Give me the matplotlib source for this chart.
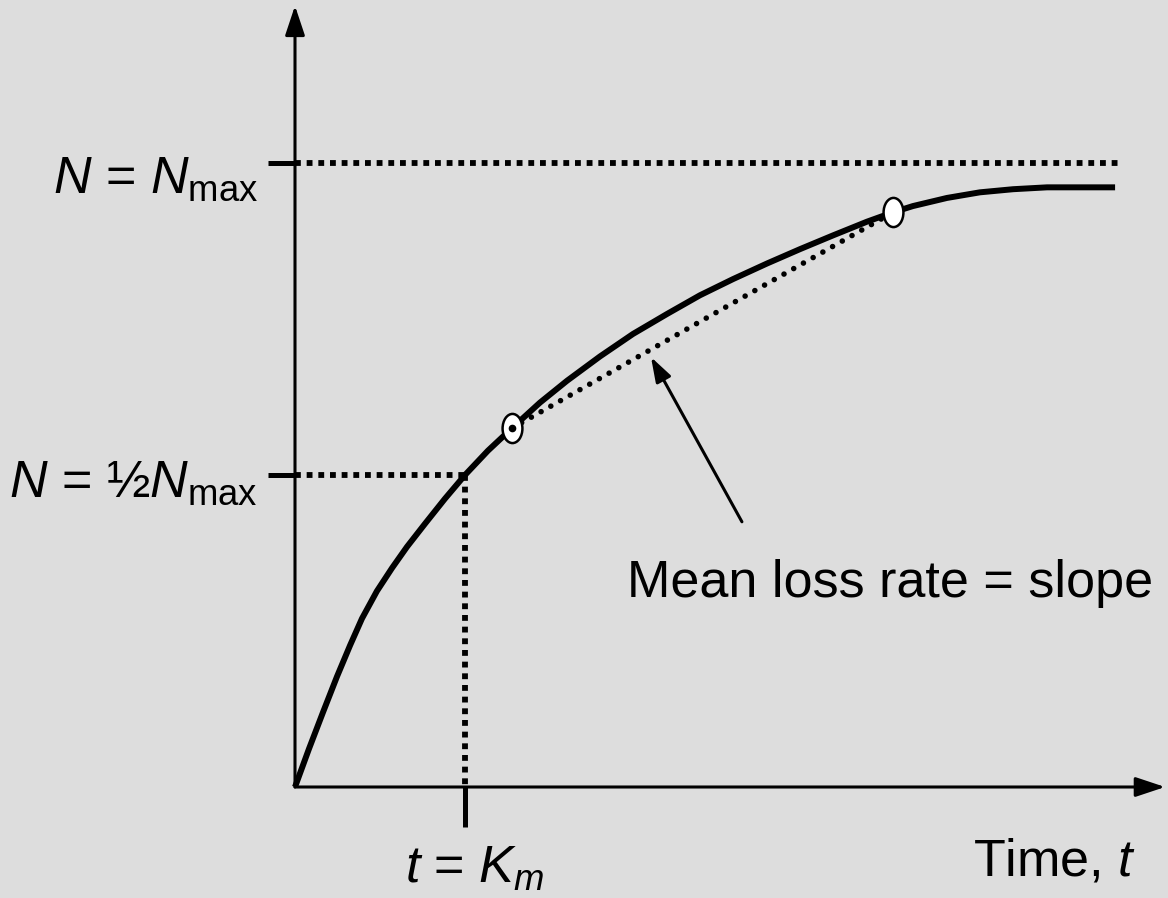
import matplotlib
matplotlib.use("Agg")
import matplotlib.pyplot as plt
from matplotlib.path import Path
from matplotlib.transforms import Affine2D

plt.rcParams['font.family'] = ['Liberation Sans', 'DejaVu Sans']
plt.rcParams['mathtext.fontset'] = 'custom'
plt.rcParams['mathtext.rm'] = 'Liberation Sans'
plt.rcParams['mathtext.it'] = 'Liberation Sans:italic'

# ---- data (diagram units: time in units of Km, N in units of Nmax) ----
time_pts = [0, 0.082, 0.165, 0.247, 0.324, 0.394, 0.482, 0.571, 0.659,
            0.765, 0.882, 1.0, 1.135, 1.276, 1.441, 1.6, 1.794, 1.988,
            2.188, 2.382, 2.577, 2.777, 2.971, 3.165, 3.365, 3.518, 3.635,
            3.835, 4.029, 4.224, 4.424, 4.618, 4.824]
N_pts = [0, 0.061, 0.120, 0.177, 0.227, 0.270, 0.314, 0.351, 0.385,
         0.422, 0.462, 0.5, 0.539, 0.575, 0.616, 0.651, 0.690, 0.726,
         0.758, 0.788, 0.814, 0.839, 0.862, 0.884, 0.906, 0.921, 0.931,
         0.944, 0.953, 0.958, 0.961, 0.961, 0.961]
Km = 1.0
N_max = 1.0
N_half = 0.5
t_end = 4.84
chord_t = [1.276, 3.518]
chord_N = [0.575, 0.921]
arrow_tip = (2.094, 0.689)
arrow_tail = (2.629, 0.425)

BG = '#DDDDDD'
fig = plt.figure(figsize=(11.68, 8.98), dpi=100, facecolor=BG)
ax = fig.add_axes([0, 0, 1, 1])
ax.set_facecolor(BG)
ax.axis('off')
ax.set_xlim(-295 / 170, (1168 - 295) / 170)
ax.set_ylim(-111 / 624, 787 / 624)

# axes with arrows
axis_arrow = dict(arrowstyle='-|>,head_length=0.9,head_width=0.3',
                  lw=2.2, color='black', mutation_scale=20,
                  shrinkA=0, shrinkB=0)
ax.annotate('', xy=(0, 1.252), xytext=(0, 0), arrowprops=axis_arrow)
ax.annotate('', xy=(5.118, 0), xytext=(0, 0), arrowprops=axis_arrow)

# tick marks
ax.plot([-0.159, 0], [N_max, N_max], color='black', lw=3.6, solid_capstyle='butt')
ax.plot([-0.159, 0], [N_half, N_half], color='black', lw=3.6, solid_capstyle='butt')
ax.plot([Km, Km], [0, -0.064], color='black', lw=3.6, solid_capstyle='butt')

# square-dotted guide lines
sq = dict(color='black', lw=4.2, linestyle=(0, (1, 1)), dash_capstyle='butt')
ax.plot([0, t_end], [N_max, N_max], **sq)
ax.plot([0, Km], [N_half, N_half], **sq)
ax.plot([Km, Km], [N_half, 0], **sq)

# curve
ax.plot(time_pts, N_pts, color='black', lw=4.3, solid_joinstyle='round',
        solid_capstyle='butt', zorder=3)

# chord (round dots)
ax.plot(chord_t, chord_N, color='black', lw=4.0, linestyle=(0, (0.01, 2.0)),
        dash_capstyle='round', zorder=3)

# ellipse markers
ell = Path.unit_circle().transformed(Affine2D().scale(0.68, 1.0))
ax.plot(chord_t, chord_N, linestyle='none', marker=ell, ms=21,
        mfc='white', mec='black', mew=1.8, zorder=4)
ax.plot(chord_t[0], chord_N[0], 'o', ms=4.5, color='black', zorder=5)

# annotation arrow
ax.annotate('', xy=arrow_tip, xytext=arrow_tail,
            arrowprops=dict(arrowstyle='-|>,head_length=0.75,head_width=0.25',
                            lw=2.2, color='black', mutation_scale=20,
                            shrinkA=0, shrinkB=0))

fs = 37.5
ax.text((627 - 295) / 170, (787 - 597) / 624, 'Mean loss rate = slope',
        fontsize=fs, ha='left', va='baseline')
ax.text((258 - 295) / 170, (787 - 193) / 624, r'$N$ = $N_{\mathrm{max}}$',
        fontsize=fs, ha='right', va='baseline')
ax.text((258 - 295) / 170, (787 - 497) / 624, r'$N$ = ½$N_{\mathrm{max}}$',
        fontsize=fs, ha='right', va='baseline')
ax.text((405 - 295) / 170, (787 - 883) / 624, r'$t$ = $K_{m}$',
        fontsize=fs, ha='left', va='baseline')
ax.text((973 - 295) / 170, (787 - 875) / 624, r'Time, $t$',
        fontsize=fs, ha='left', va='baseline')

fig.savefig('out.png', dpi=100, facecolor=BG)
